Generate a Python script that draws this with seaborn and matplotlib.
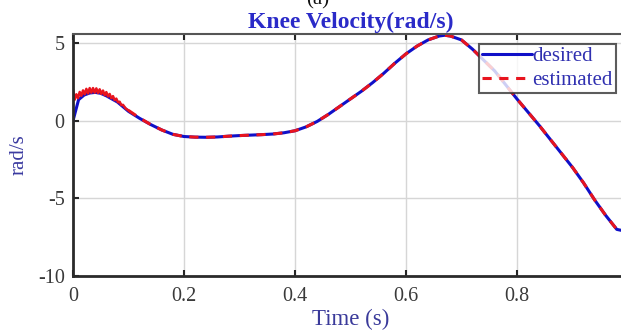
import matplotlib
matplotlib.use("Agg")
import matplotlib.pyplot as plt
import seaborn as sns
import pandas as pd

# Knee joint angular velocity over one gait cycle (rad/s)
time_s = [0.00, 0.01, 0.02, 0.03, 0.04, 0.05, 0.06, 0.08, 0.10, 0.12,
          0.14, 0.16, 0.18, 0.20, 0.22, 0.24, 0.26, 0.28, 0.30, 0.32,
          0.34, 0.36, 0.38, 0.40, 0.42, 0.44, 0.46, 0.48, 0.50, 0.52,
          0.54, 0.56, 0.58, 0.60, 0.62, 0.64, 0.66, 0.67, 0.68, 0.70,
          0.72, 0.74, 0.76, 0.78, 0.80, 0.82, 0.84, 0.86, 0.88, 0.90,
          0.92, 0.94, 0.96, 0.98, 1.00]
desired = [0.00, 1.35, 1.65, 1.78, 1.82, 1.76, 1.60, 1.20, 0.60, 0.15,
           -0.25, -0.60, -0.88, -1.02, -1.06, -1.07, -1.05, -1.00, -0.96, -0.93,
           -0.90, -0.86, -0.78, -0.65, -0.40, -0.05, 0.40, 0.90, 1.40, 1.90,
           2.45, 3.05, 3.70, 4.30, 4.80, 5.20, 5.45, 5.50, 5.45, 5.20,
           4.60, 3.90, 3.20, 2.30, 1.40, 0.55, -0.30, -1.20, -2.10, -3.00,
           -4.00, -5.10, -6.10, -7.00, -7.15]

# Estimate during the initial transient, where it chatters around the reference
est_start_time = [0.000, 0.003, 0.006, 0.009, 0.012, 0.015, 0.018, 0.021,
                  0.024, 0.027, 0.030, 0.033, 0.036, 0.039, 0.042, 0.045,
                  0.048, 0.051, 0.054, 0.057, 0.060, 0.063, 0.066, 0.069,
                  0.072, 0.075, 0.078, 0.081, 0.084, 0.087, 0.090, 0.095,
                  0.100]
est_start = [2.00, 1.35, 1.70, 1.45, 1.85, 1.60, 1.95, 1.70, 2.05,
             1.75, 2.10, 1.80, 2.10, 1.80, 2.08, 1.78, 2.02, 1.72,
             1.94, 1.64, 1.84, 1.56, 1.72, 1.44, 1.58, 1.32, 1.42,
             1.18, 1.22, 1.00, 1.02, 0.78, 0.66]

# Estimate after the transient
est_time = [0.10, 0.12, 0.14, 0.16, 0.18, 0.20, 0.22, 0.24, 0.26, 0.28,
            0.30, 0.32, 0.34, 0.36, 0.38, 0.40, 0.42, 0.44, 0.46, 0.48,
            0.50, 0.52, 0.54, 0.56, 0.58, 0.60, 0.62, 0.64, 0.66, 0.67,
            0.68, 0.70, 0.72, 0.74, 0.76, 0.78, 0.80, 0.82, 0.84, 0.86,
            0.88, 0.90, 0.92, 0.94, 0.96, 0.98, 1.00]
estimated = [0.66, 0.17, -0.25, -0.60, -0.88, -1.02, -1.06, -1.07, -1.05, -1.00,
             -0.96, -0.93, -0.90, -0.86, -0.78, -0.65, -0.40, -0.05, 0.40, 0.90,
             1.40, 1.90, 2.45, 3.05, 3.70, 4.30, 4.80, 5.20, 5.45, 5.50,
             5.45, 5.20, 4.60, 3.90, 3.20, 2.30, 1.40, 0.55, -0.30, -1.20,
             -2.10, -3.00, -4.00, -5.10, -6.10, -7.00, -7.15]

x_ticks = [0, 0.2, 0.4, 0.6, 0.8]
y_ticks = [-10, -5, 0, 5]

sns.set_theme(style="ticks")
plt.rcParams["font.family"] = ["Liberation Serif", "DejaVu Serif"]
plt.rcParams["axes.unicode_minus"] = False

df_des = pd.DataFrame({"t": time_s, "v": desired})
df_est0 = pd.DataFrame({"t": est_start_time, "v": est_start})
df_est = pd.DataFrame({"t": est_time, "v": estimated})

fig = plt.figure(figsize=(6.21, 3.32), dpi=100)
ax = fig.add_axes([0.1176, 0.1687, 0.8935, 0.7289])

red = "#e8141e"
sns.lineplot(data=df_des, x="t", y="v", ax=ax, color="#1010c8",
             linewidth=2.2, label="desired")
sns.lineplot(data=df_est0, x="t", y="v", ax=ax, color=red,
             linewidth=1.8, legend=False)
sns.lineplot(data=df_est, x="t", y="v", ax=ax, color=red,
             linewidth=2.2, linestyle=(0, (3, 2.5)), label="estimated")

ax.set_xlim(0, 1)
ax.set_ylim(-10, 5.58)
ax.set_xticks(x_ticks)
ax.set_xticklabels(["0", "0.2", "0.4", "0.6", "0.8"])
ax.set_yticks(y_ticks)
ax.grid(True, color="#d6d6d6", linewidth=1.0)
ax.tick_params(direction="in", top=True, right=True, length=4, width=1.5,
               labelsize=14.5, labelcolor="#3a3a3a", color="#262626")
ax.tick_params(axis="x", pad=8)
ax.tick_params(axis="y", pad=6)

for side in ["left", "bottom"]:
    ax.spines[side].set_linewidth(2.0)
    ax.spines[side].set_color("#2a2a2a")
ax.spines["top"].set_linewidth(1.5)
ax.spines["top"].set_color("#555555")

ax.set_title("Knee Velocity(rad/s)", color="#2a2ac8", fontweight="bold",
             fontsize=17, pad=4)
ax.set_xlabel("Time (s)", color="#3a3a9a", fontsize=16.5, labelpad=2)
ax.set_ylabel("rad/s", color="#3a3aa0", fontsize=15, labelpad=7)

leg = ax.legend(loc="upper right", bbox_to_anchor=(0.978, 0.96),
                borderaxespad=0, fontsize=15, frameon=True, fancybox=False,
                handlelength=2.4, handletextpad=0.0, borderpad=0.15,
                labelspacing=0.2)
leg.get_frame().set_edgecolor("#333333")
leg.get_frame().set_linewidth(1.5)
for txt in leg.get_texts():
    txt.set_color("#3030b0")

fig.text(0.512, 1.0, "(a)", ha="center", va="center", fontsize=15,
         color="#111111")

fig.savefig("out.png", dpi=100)
